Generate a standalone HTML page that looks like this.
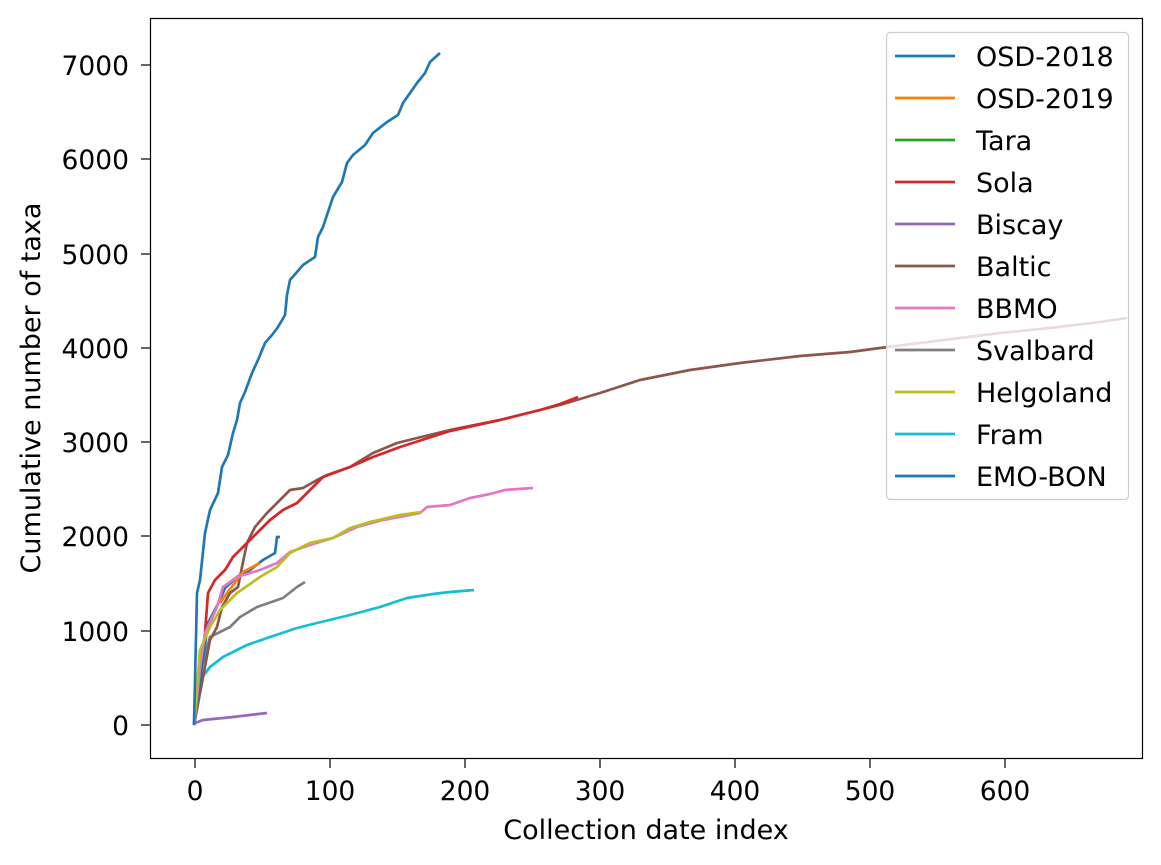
<!DOCTYPE html>
<html><head><style>
body{margin:0;background:#fff;}
svg{display:block;font-family:"DejaVu Sans","Liberation Sans",sans-serif;}
</style></head><body>
<svg width="1161" height="865" viewBox="0 0 1161 865">
<rect width="1161" height="865" fill="#fff"/>
<g fill="none" stroke-width="2.7" stroke-linejoin="round">
<polyline stroke="#9467bd" points="194,725 195,723 203,720 233,717 267,713"/>
<polyline stroke="#17becf" points="194,725 195,700 200,680 210,667 223,657 247,645 270,637 297,628 317,623 350,615 380,607 407,598 433,594 450,592 474,590"/>
<polyline stroke="#7f7f7f" points="194,725 200,673 210,637 230,627 240,617 257,607 283,598 297,587 305,582"/>
<polyline stroke="#8c564b" points="194,725 210,640 217,627 222,607 230,593 238,587 242,567 247,543 255,527 267,513 277,503 290,490 303,488 317,480 327,475 350,467 373,453 397,443 417,438 450,430 500,420 560,405 600,393 640,380 690,370 740,363 800,356 850,352 880,348 920,343 960,338 1000,333 1050,328 1100,322 1127,318"/>
<polyline stroke="#d62728" points="194,725 205,633 208,593 215,580 225,570 233,557 247,543 257,533 270,520 283,510 297,503 307,493 323,477 350,467 373,457 400,447 450,431 500,420 540,410 560,404 578,397"/>
<polyline stroke="#1f77b4" points="194,725 208,623 220,600 225,588 237,577 250,570 263,560 275,553 277,537 280,537"/>
<polyline stroke="#ff7f0e" points="220,603 227,593 243,572 260,563"/>
<polyline stroke="#e377c2" points="194,725 200,667 205,633 217,607 223,587 237,577 260,570 277,563 290,552 310,545 333,538 357,527 383,520 420,513 427,507 450,505 470,498 490,494 505,490 533,488"/>
<polyline stroke="#bcbd22" points="194,725 200,650 210,627 220,610 237,593 260,577 277,567 290,553 310,543 333,538 350,528 370,522 400,515 422,512"/>
<polyline stroke="#1f77b4" points="194,725 197,593 200,580 205,533 210,510 218,493 222,467 228,455 233,433 237,420 240,403 245,392 252,373 258,360 265,343 272,335 278,327 285,315 287,295 290,280 297,272 303,265 315,257 318,237 323,227 328,212 333,197 342,182 347,163 353,155 365,145 373,133 387,122 398,115 403,103 410,93 417,83 425,73 430,62 440,53"/>
</g>
<rect x="150.5" y="18.5" width="992" height="740" fill="none" stroke="#000" stroke-width="1.2"/>
<g stroke="#000" stroke-width="1.2">
<line x1="195" y1="759" x2="195" y2="768"/><line x1="330" y1="759" x2="330" y2="768"/><line x1="465" y1="759" x2="465" y2="768"/><line x1="600" y1="759" x2="600" y2="768"/><line x1="735" y1="759" x2="735" y2="768"/><line x1="870" y1="759" x2="870" y2="768"/><line x1="1005" y1="759" x2="1005" y2="768"/>
<line x1="141" y1="725" x2="150" y2="725"/><line x1="141" y1="631" x2="150" y2="631"/><line x1="141" y1="536" x2="150" y2="536"/><line x1="141" y1="442" x2="150" y2="442"/><line x1="141" y1="348" x2="150" y2="348"/><line x1="141" y1="254" x2="150" y2="254"/><line x1="141" y1="159" x2="150" y2="159"/><line x1="141" y1="65" x2="150" y2="65"/>
</g>
<g font-size="26.5" fill="#000" text-anchor="middle">
<text x="195" y="800">0</text><text x="330" y="800">100</text><text x="465" y="800">200</text><text x="600" y="800">300</text><text x="735" y="800">400</text><text x="870" y="800">500</text><text x="1005" y="800">600</text>
<text x="646" y="839" font-size="27">Collection date index</text>
</g>
<g font-size="26.5" fill="#000" text-anchor="end">
<text x="129" y="735">0</text><text x="129" y="641">1000</text><text x="129" y="546">2000</text><text x="129" y="452">3000</text><text x="129" y="358">4000</text><text x="129" y="264">5000</text><text x="129" y="169">6000</text><text x="129" y="75">7000</text>
</g>
<text transform="translate(40,388) rotate(-90)" font-size="27" text-anchor="middle">Cumulative number of taxa</text>
<rect x="886.5" y="32.5" width="242" height="467" rx="4" fill="#fff" fill-opacity="0.8" stroke="#ccc" stroke-width="1.2"/>
<g stroke-width="2.7">
<line x1="895" y1="56" x2="955" y2="56" stroke="#1f77b4"/>
<line x1="895" y1="98" x2="955" y2="98" stroke="#ff7f0e"/>
<line x1="895" y1="140" x2="955" y2="140" stroke="#2ca02c"/>
<line x1="895" y1="182" x2="955" y2="182" stroke="#d62728"/>
<line x1="895" y1="224" x2="955" y2="224" stroke="#9467bd"/>
<line x1="895" y1="266" x2="955" y2="266" stroke="#8c564b"/>
<line x1="895" y1="308" x2="955" y2="308" stroke="#e377c2"/>
<line x1="895" y1="350" x2="955" y2="350" stroke="#7f7f7f"/>
<line x1="895" y1="392" x2="955" y2="392" stroke="#bcbd22"/>
<line x1="895" y1="434" x2="955" y2="434" stroke="#17becf"/>
<line x1="895" y1="476" x2="955" y2="476" stroke="#1f77b4"/>
</g>
<g font-size="27" fill="#000">
<text x="976" y="66">OSD-2018</text><text x="976" y="108">OSD-2019</text><text x="976" y="150">Tara</text><text x="976" y="192">Sola</text><text x="976" y="234">Biscay</text><text x="976" y="276">Baltic</text><text x="976" y="318">BBMO</text><text x="976" y="360">Svalbard</text><text x="976" y="402">Helgoland</text><text x="976" y="444">Fram</text><text x="976" y="486">EMO-BON</text>
</g>
</svg>
</body></html>
